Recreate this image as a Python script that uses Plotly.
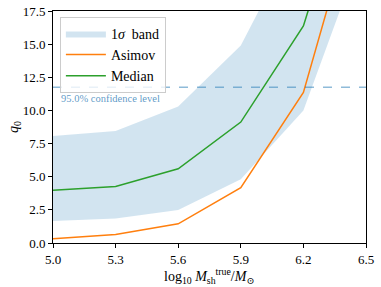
import plotly.graph_objects as go

masses = [5.0, 5.3, 5.6, 5.9, 6.2, 6.5]
asimov = [0.33, 0.65, 1.45, 4.18, 11.35, 27.9]
median = [3.97, 4.27, 5.6, 9.12, 16.37, 31.5]
band_low = [1.66, 1.84, 2.49, 4.8, 10.0, 22.9]
band_high = [8.07, 8.45, 10.29, 14.9, 24.0, 38.0]
threshold = 11.74
xticks = [5.0, 5.3, 5.6, 5.9, 6.2, 6.5]
yticks = [0.0, 2.5, 5.0, 7.5, 10.0, 12.5, 15.0, 17.5]

FONT = "'Liberation Serif', 'DejaVu Serif', serif"

fig = go.Figure()
fig.add_trace(go.Scatter(x=masses, y=band_low, mode="lines", line=dict(width=0),
                         showlegend=False, hoverinfo="skip"))
fig.add_trace(go.Scatter(x=masses, y=band_high, mode="lines", line=dict(width=0),
                         fill="tonexty", fillcolor="rgba(31,119,180,0.2)",
                         name="1<i>σ</i>  band"))
fig.add_trace(go.Scatter(x=masses, y=asimov, mode="lines",
                         line=dict(color="#ff7f0e", width=1.5), name="Asimov"))
fig.add_trace(go.Scatter(x=masses, y=median, mode="lines",
                         line=dict(color="#2ca02c", width=1.5), name="Median"))

fig.add_shape(type="line", xref="paper", x0=0, x1=1, yref="y", y0=threshold, y1=threshold,
              line=dict(color="rgba(31,119,180,0.5)", width=1.5, dash="dash"))
fig.add_annotation(x=5.03, y=threshold - 0.3, xref="x", yref="y", text="95.0% confidence level",
                   showarrow=False, xanchor="left", yanchor="top",
                   font=dict(family=FONT, size=10.5, color="rgba(31,119,180,0.75)"))

# axis titles
fig.add_annotation(xref="paper", yref="paper", x=0.5, y=-0.09, yanchor="top", showarrow=False,
                   text="log<sub>10</sub> <i>M</i><sub>sh</sub><sup>true</sup>/<i>M</i><sub>⊙</sub>",
                   font=dict(family=FONT, size=14, color="black"))
fig.add_annotation(xref="paper", yref="paper", x=-0.125, y=0.5, xanchor="center", showarrow=False,
                   textangle=-90, text="<i>q</i><sub>0</sub>",
                   font=dict(family=FONT, size=14, color="black"))

axis_common = dict(showline=True, linecolor="black", linewidth=1, mirror=True,
                   ticks="outside", ticklen=4, tickcolor="black", showgrid=False,
                   zeroline=False, automargin=False,
                   tickfont=dict(family=FONT, size=13, color="black"))

fig.update_xaxes(range=[5.0, 6.5], tickvals=xticks, ticktext=[f"{v:.1f}" for v in xticks],
                 **axis_common)
fig.update_yaxes(range=[0, 17.5], tickvals=yticks, ticktext=[f"{v:.1f}" for v in yticks],
                 **axis_common)

fig.update_layout(
    width=381, height=287,
    margin=dict(l=53, r=15, t=11, b=44),
    plot_bgcolor="white", paper_bgcolor="white",
    font=dict(family=FONT, color="black"),
    showlegend=True,
    legend=dict(x=0.022, y=0.975, xanchor="left", yanchor="top", traceorder="normal",
                bgcolor="rgba(255,255,255,0.8)", bordercolor="#cccccc", borderwidth=1,
                font=dict(family=FONT, size=14), tracegroupgap=0, itemwidth=40),
)

fig.write_html("out.html", config={"displayModeBar": False},
               post_script="document.body.style.margin='0';document.body.style.padding='0';")
